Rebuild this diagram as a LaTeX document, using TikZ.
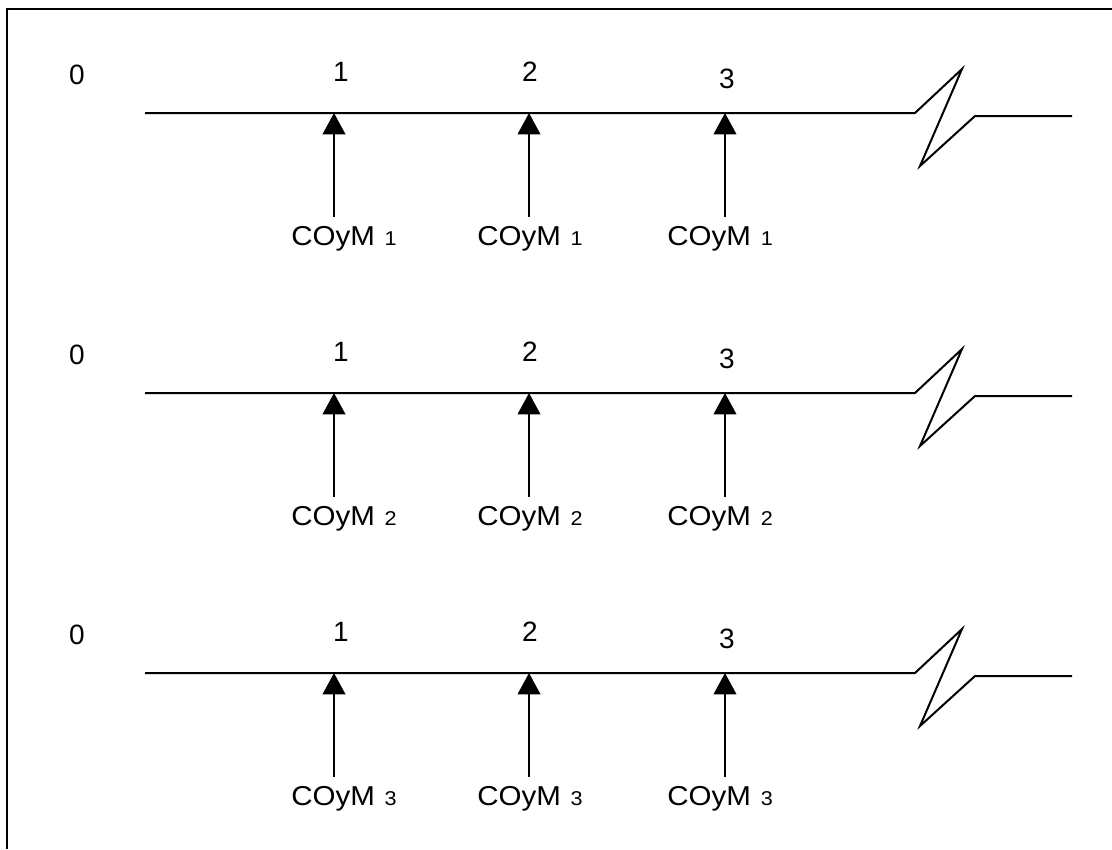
\documentclass[tikz,border=0pt]{standalone}
\usepackage{fontspec}
\setmainfont{Liberation Sans}
\usetikzlibrary{arrows.meta}
\tikzset{
  axisline/.style={line width=1.5pt, line join=miter},
  uparrow/.style={line width=1.3pt, -{Triangle[width=17pt,length=16pt]}},
  ticklabel/.style={font=\fontsize{21}{24}\selectfont, inner sep=0pt},
  coymlabel/.style={anchor=base west, inner sep=0pt, font=\fontsize{20.5}{24}\selectfont},
  frame/.style={line width=1.6pt}
}
\begin{document}
\begin{tikzpicture}[x=0.75pt,y=-0.75pt]
\useasboundingbox (0,0) rectangle (1112,849);
\draw[frame] (7,849) -- (7,9) -- (1112,9);
\foreach \r/\dy in {1/0,2/280,3/560}{
  \node[ticklabel] (zero\r) at (77,75+\dy) {0};
  \node[ticklabel] (one\r) at (341,72+\dy) {1};
  \node[ticklabel] (two\r) at (530,72+\dy) {2};
  \node[ticklabel] (three\r) at (727,79+\dy) {3};
  \coordinate (start\r) at (145,113+\dy);
  \coordinate (brkA\r) at (915,113+\dy);
  \coordinate (brkB\r) at (962,69+\dy);
  \coordinate (brkC\r) at (920,166+\dy);
  \coordinate (brkD\r) at (975,116+\dy);
  \coordinate (end\r) at (1072,116+\dy);
  \draw[axisline] (start\r) -- (brkA\r) -- (brkB\r) -- (brkC\r) -- (brkD\r) -- (end\r);
  \foreach \k/\ax/\lx in {a/334/291,b/529/477,c/725/667}{
    \coordinate (tip\r\k) at (\ax,113+\dy);
    \coordinate (base\r\k) at (\ax,217+\dy);
    \draw[uparrow] (base\r\k) -- (tip\r\k);
    \node[coymlabel] (lab\r\k) at (\lx,245+\dy) {\scalebox{1.08}[1]{COyM\,\,{\fontsize{15}{17}\selectfont\r}}};
  }
}
\end{tikzpicture}
\end{document}
